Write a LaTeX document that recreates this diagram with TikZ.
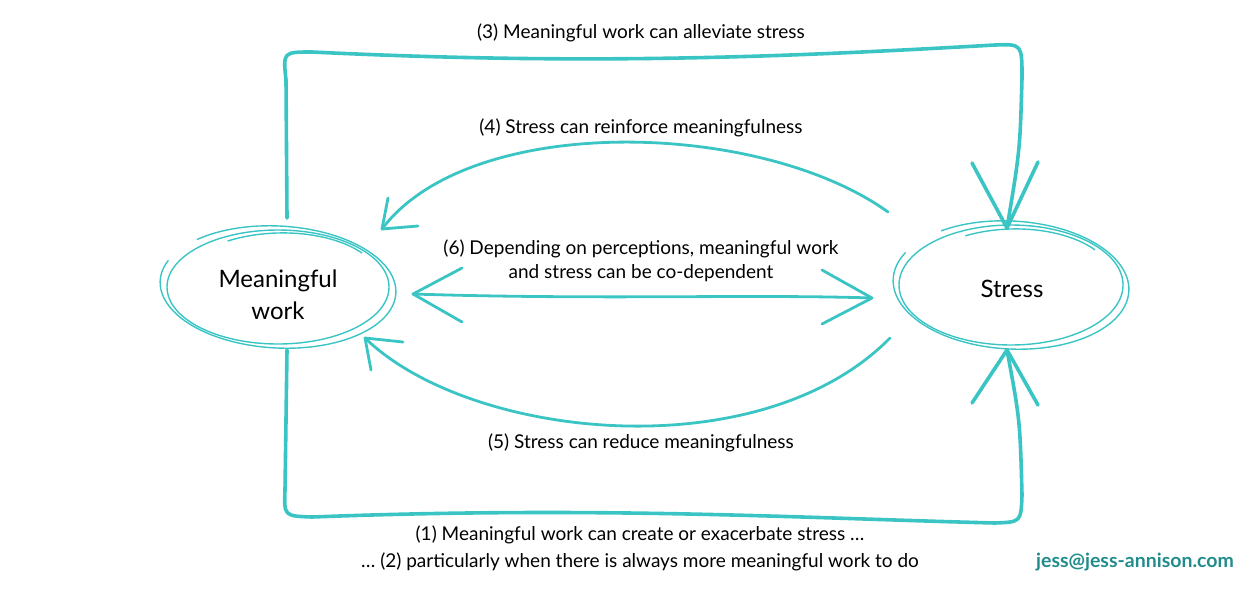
\documentclass[tikz,border=0pt]{standalone}
\usepackage{fontspec}
\setmainfont{Lato}
\definecolor{teal1}{RGB}{58,196,196}
\definecolor{mailcol}{RGB}{32,140,140}
\begin{document}
\begin{tikzpicture}[x=1pt,y=-1pt,
  loopline/.style={draw=teal1,line width=3.6pt,line cap=round,line join=round},
  arcline/.style={draw=teal1,line width=2.8pt,line cap=round,line join=round},
  sketch/.style={draw=teal1,line width=1.4pt},
  lbl/.style={font=\fontsize{19}{24}\selectfont,align=center,inner sep=0pt},
  big/.style={font=\fontsize{24}{32}\selectfont,align=center,inner sep=0pt}]
\useasboundingbox (0,0) rectangle (1255,592);
% nodes
\node[big] (mw) at (278,295) {Meaningful\\work};
\node[big] (st) at (1012,289) {Stress};
% sketchy ellipses: meaningful work
\coordinate (mwc) at (278,287);
\draw[sketch] (mwc) ellipse [x radius=111, y radius=57];
\draw[sketch,shift={(mwc)},rotate=-3] (225:118 and 61) arc [start angle=225, end angle=560, x radius=118, y radius=61];
\draw[sketch,shift={(mwc)},rotate=2] (242:104 and 54) arc [start angle=242, end angle=325, x radius=104, y radius=54];
% sketchy ellipses: stress
\coordinate (stc) at (1011,285);
\draw[sketch] (stc) ellipse [x radius=112, y radius=60];
\draw[sketch,shift={(stc)},rotate=-3] (232:118 and 64) arc [start angle=232, end angle=565, x radius=118, y radius=64];
\draw[sketch,shift={(stc)},rotate=2] (245:104 and 56) arc [start angle=245, end angle=325, x radius=104, y radius=56];
% named points
\coordinate (t3s) at (287,218);
\coordinate (t3e) at (1007,228);
\coordinate (b1s) at (287,350);
\coordinate (b1e) at (1007,350);
\coordinate (a4s) at (888,212);
\coordinate (a4e) at (382,229);
\coordinate (a5s) at (890,338);
\coordinate (a5e) at (365,338);
\coordinate (a6l) at (413,294);
\coordinate (a6r) at (872,298);
% (3) top loop
\draw[loopline] (t3s) -- (286,80) .. controls (283,52) .. (312,52)
  .. controls (600,66) and (800,56) .. (995,45) .. controls (1022,44) .. (1022,78)
  .. controls (1020,150) .. (t3e);
\draw[loopline] (972,163) -- (t3e) -- (1038,162);
% (1) bottom loop
\draw[loopline] (b1s) -- (285,490) .. controls (284,516) .. (312,517)
  .. controls (600,506) and (800,518) .. (995,523) .. controls (1021,522) .. (1022,495)
  .. controls (1020,420) .. (b1e);
\draw[loopline] (972,403) -- (b1e) -- (1038,405);
% (4) arc
\draw[arcline] (a4s) .. controls (760,120) and (470,112) .. (a4e);
\draw[arcline] (388,198) -- (a4e) -- (418,226);
% (5) arc
\draw[arcline] (a5s) .. controls (760,470) and (470,440) .. (a5e);
\draw[arcline] (403,342) -- (a5e) -- (371,370);
% (6) double arrow
\draw[arcline] (a6l) .. controls (600,300) and (750,294) .. (a6r);
\draw[arcline] (462,268) -- (a6l) -- (462,322);
\draw[arcline] (822,270) -- (a6r) -- (822,324);
% labels
\node[lbl] (l3) at (641,33) {(3) Meaningful work can alleviate stress};
\node[lbl] (l4) at (641,128) {(4) Stress can reinforce meaningfulness};
\node[lbl] (l6) at (641,261) {(6) Depending on perceptions, meaningful work\\and stress can be co-dependent};
\node[lbl] (l5) at (641,443) {(5) Stress can reduce meaningfulness};
\node[lbl] (l1) at (640,535) {(1) Meaningful work can create or exacerbate stress \dots};
\node[lbl] (l2) at (640,562) {\dots\ (2) particularly when there is always more meaningful work to do};
\node[lbl,font=\fontsize{19.5}{24}\selectfont\bfseries,text=mailcol] (mail) at (1135,562) {jess@jess-annison.com};
\end{tikzpicture}
\end{document}
